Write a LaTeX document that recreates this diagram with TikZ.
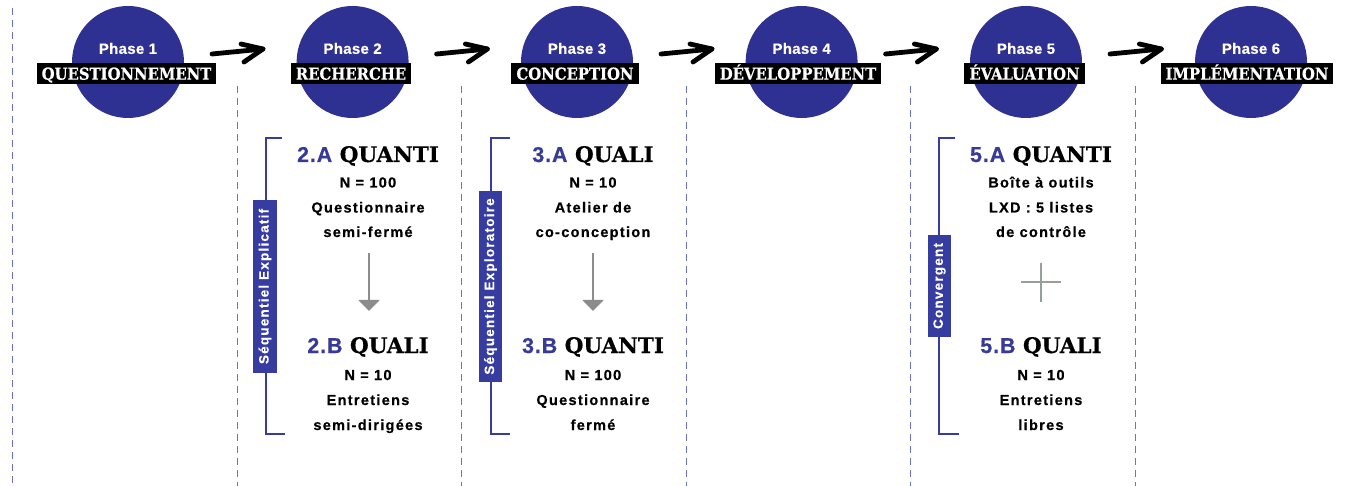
\documentclass[tikz,border=0pt]{standalone}
\usepackage{fontspec}
\setmainfont{Liberation Sans}
\newfontfamily\bodyf[LetterSpace=9,FakeBold=0.6]{Liberation Sans}
\newfontfamily\vlabf[LetterSpace=9,FakeBold=0.4]{Liberation Sans}
\newfontfamily\phasef[LetterSpace=2,FakeBold=0.5]{Liberation Sans}
\newfontfamily\numf[LetterSpace=4,FakeBold=0.5]{Liberation Sans}
\newfontfamily\slabf[FakeBold=0.4]{DejaVu Serif}
\newfontfamily\slabc[FakeBold=0.4]{DejaVu Serif Condensed}
\usetikzlibrary{calc,arrows.meta}
\definecolor{indigo}{RGB}{46,49,146}
\definecolor{numblue}{RGB}{55,58,150}
\definecolor{brk}{RGB}{55,60,160}
\definecolor{dashc}{RGB}{110,115,190}
\definecolor{grayc}{RGB}{140,140,140}
\definecolor{plusc}{RGB}{150,160,152}
\tikzset{
  phasecircle/.style={circle, fill=indigo, minimum size=112pt, inner sep=0pt},
  phasetxt/.style={text=white, font=\phasef\bfseries\fontsize{15}{17}\selectfont, inner sep=0pt},
  phaselab/.style={fill=black, text=white, font=\slabc\bfseries\fontsize{16.5}{19}\selectfont,
    inner xsep=5pt, inner ysep=0pt, text height=12.4pt, text depth=0pt, minimum height=21pt},
  bigarrow/.style={line width=4.8pt, line cap=round, line join=round, black},
  dashline/.style={dashc, line width=1pt, dash pattern=on 7pt off 5pt},
  bracket/.style={brk, line width=2pt},
  vlabel/.style={fill=brk, text=white, rotate=90, inner sep=0pt,
    font=\vlabf\bfseries\fontsize{13.5}{15}\selectfont},
  head/.style={font=\slabf\bfseries\fontsize{21.5}{24}\selectfont, inner sep=0pt, anchor=base},
  body/.style={font=\bodyf\bfseries\fontsize{14.5}{17}\selectfont, inner sep=0pt, anchor=base},
  grayarrow/.style={grayc, line width=2pt, -{Triangle[width=21pt,length=11pt]}},
  plusline/.style={plusc, line width=2pt},
}
\newcommand{\nb}[1]{\textcolor{numblue}{\numf\bfseries #1}}
\begin{document}
\begin{tikzpicture}[x=1pt,y=-1pt]
\useasboundingbox (0,0) rectangle (1347,486);
\fill[white] (0,0) rectangle (1347,486);

% dashed separators
\draw[dashline] (12,8) -- (12,486);
\foreach \x in {237,461.5,686,910.5,1135}
  \draw[dashline] (\x,86) -- (\x,486);

% phases
\node[phasecircle] (c1) at (128,62) {};
\node[phasecircle] (c2) at (352.6,62) {};
\node[phasecircle] (c3) at (577,62) {};
\node[phasecircle] (c4) at (801.6,62) {};
\node[phasecircle] (c5) at (1026,62) {};
\node[phasecircle] (c6) at (1251,62) {};

\node[phasetxt] (t1) at (128,48.5) {Phase 1};
\node[phasetxt] (t2) at (352.6,48.5) {Phase 2};
\node[phasetxt] (t3) at (577,48.5) {Phase 3};
\node[phasetxt] (t4) at (801.6,48.5) {Phase 4};
\node[phasetxt] (t5) at (1026,48.5) {Phase 5};
\node[phasetxt] (t6) at (1251,48.5) {Phase 6};

\node[phaselab] (l1) at (126.5,73.5) {QUESTIONNEMENT};
\node[phaselab] (l2) at (351,73.5) {RECHERCHE};
\node[phaselab] (l3) at (575,73.5) {CONCEPTION};
\node[phaselab] (l4) at (798,73.5) {DÉVELOPPEMENT};
\node[phaselab] (l5) at (1024.5,73.5) {ÉVALUATION};
\node[phaselab] (l6) at (1247,73.5) {IMPLÉMENTATION};

% arrows between phases
\foreach \i/\j in {1/2,2/3,3/4,4/5,5/6}{
  \coordinate (s\i) at ($(c\i.center)+(84,-8)$);
  \coordinate (e\i) at ($(c\j.center)+(-89.6,-13)$);
  \draw[bigarrow] (s\i) -- (e\i);
  \draw[bigarrow] ($(e\i)+(-22,-5)$) -- (e\i) -- ($(e\i)+(-19,13)$);
}

% Phase 2 block
\draw[bracket] (282,138) -- (266,138) -- (266,434) -- (285,434);
\node[vlabel, minimum width=173pt, minimum height=24pt] (v2) at (265,286.5) {Séquentiel Explicatif};
\node[head] (h2a) at (368,162) {\nb{2.A} QUANTI};
\node[body] (b2a1) at (368,187.5) {N = 100};
\node[body] (b2a2) at (368,212.5) {Questionnaire};
\node[body] (b2a3) at (368,237) {semi-fermé};
\coordinate (g2s) at (369,253);
\coordinate (g2e) at (369,311);
\draw[grayarrow] (g2s) -- (g2e);
\node[head] (h2b) at (368,353) {\nb{2.B} QUALI};
\node[body] (b2b1) at (368,380) {N = 10};
\node[body] (b2b2) at (368,405) {Entretiens};
\node[body] (b2b3) at (368,430) {semi-dirigées};

% Phase 3 block
\draw[bracket] (510,138) -- (491,138) -- (491,434) -- (510,434);
\node[vlabel, minimum width=191pt, minimum height=23pt] (v3) at (490.5,286.5) {Séquentiel Exploratoire};
\node[head] (h3a) at (593,162) {\nb{3.A} QUALI};
\node[body] (b3a1) at (593,187.5) {N = 10};
\node[body] (b3a2) at (593,212.5) {Atelier de};
\node[body] (b3a3) at (593,237) {co-conception};
\coordinate (g3s) at (593,253);
\coordinate (g3e) at (593,311);
\draw[grayarrow] (g3s) -- (g3e);
\node[head] (h3b) at (593,353) {\nb{3.B} QUANTI};
\node[body] (b3b1) at (593,380) {N = 100};
\node[body] (b3b2) at (593,405) {Questionnaire};
\node[body] (b3b3) at (593,430) {fermé};

% Phase 5 block
\draw[bracket] (955,138) -- (939,138) -- (939,434) -- (959,434);
\node[vlabel, minimum width=102pt, minimum height=23pt] (v5) at (939.5,286) {Convergent};
\node[head] (h5a) at (1041,162) {\nb{5.A} QUANTI};
\node[body] (b5a1) at (1041,187.5) {Boîte à outils};
\node[body] (b5a2) at (1041,212.5) {LXD : 5 listes};
\node[body] (b5a3) at (1041,237) {de contrôle};
\draw[plusline] (1021,282) -- (1061,282) (1041,263) -- (1041,302);
\node[head] (h5b) at (1041,353) {\nb{5.B} QUALI};
\node[body] (b5b1) at (1041,380) {N = 10};
\node[body] (b5b2) at (1041,405) {Entretiens};
\node[body] (b5b3) at (1041,430) {libres};
\end{tikzpicture}
\end{document}
